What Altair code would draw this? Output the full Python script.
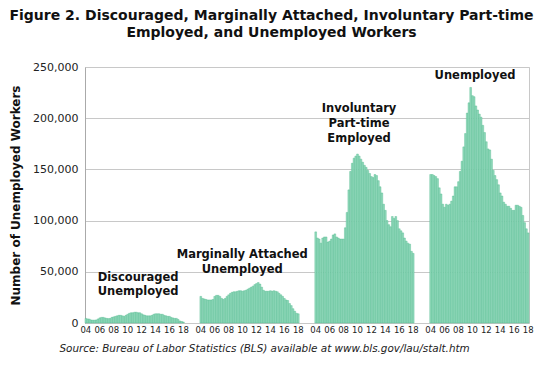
import altair as alt
import pandas as pd

# Quarterly values, 2004 Q1 .. 2018 Q1 (57 quarters), in workers
discouraged = [4500, 4000, 3800, 3000, 2800, 2800, 3000, 4000, 5000, 5500, 5500, 5000, 4500, 4300, 4500,
               5500, 6000, 6500, 7000, 7500, 7500, 7000, 6500, 7500, 8500, 9500, 10000, 10000, 10500, 10500,
               10000, 10000, 9000, 8000, 7500, 7000, 7000, 7000, 7500, 8500, 9000, 9000, 9000, 8500, 8500,
               7500, 7000, 6500, 6500, 5500, 5000, 4500, 4500, 3500, 2000, 1500, 1000]
marginal = [26000, 24000, 23500, 23000, 22500, 22500, 22500, 23000, 26000, 27000, 27000, 26000, 24000, 23000,
            24000, 26000, 27500, 29000, 30000, 30500, 30500, 31000, 31500, 31500, 31000, 31500, 32000, 33000,
            34000, 35000, 36000, 37500, 38500, 39500, 38000, 35000, 32000, 31000, 31000, 31000, 31500, 31000,
            31500, 31000, 30500, 29000, 27500, 26000, 24000, 22500, 22000, 19000, 17000, 14000, 11500, 9500, 9000]
involuntary = [89000, 83000, 82000, 78000, 83000, 84000, 84000, 79000, 80000, 82000, 86000, 87000, 84000, 83000,
               82000, 82000, 82000, 93000, 108000, 130000, 148000, 156000, 161000, 163000, 165000, 163000, 160000,
               157000, 154000, 152000, 149000, 146000, 143000, 142000, 145000, 144000, 139000, 133000, 127000,
               116000, 110000, 100000, 96000, 94000, 104000, 102000, 104000, 100000, 92000, 90000, 88000, 83000,
               80000, 78000, 77000, 70000, 68000]
unemployed = [145000, 145000, 144000, 143000, 141000, 132000, 126000, 116000, 113000, 116000, 115000, 116000,
              119000, 124000, 133000, 133000, 138000, 148000, 158000, 172000, 185000, 205000, 215000, 230000,
              222000, 221000, 212000, 208000, 204000, 201000, 193000, 186000, 177000, 170000, 169000, 160000,
              149000, 144000, 140000, 135000, 127000, 124000, 118000, 116000, 114000, 114000, 112000, 110000,
              110000, 115000, 115000, 114000, 113000, 105000, 98000, 92000, 88000]

groups = ["Discouraged", "Marginally Attached", "Involuntary Part-time", "Unemployed"]
series = [discouraged, marginal, involuntary, unemployed]
year_labels = ["04", "06", "08", "10", "12", "14", "16", "18"]

STRIDE = 66  # slots per group (57 quarters + gap)

rows = []
for g, (name, vals) in enumerate(zip(groups, series)):
    for i, v in enumerate(vals):
        p = g * STRIDE + i
        rows.append({"group": name, "pos": p, "x0": p - 0.5, "x1": p + 0.5, "value": v})
df = pd.DataFrame(rows)

tick_df = pd.DataFrame([{"pos": g * STRIDE + 8 * k, "label": lab}
                        for g in range(4) for k, lab in enumerate(year_labels)])

ann_text = ["Discouraged", "Unemployed", "Marginally Attached", "Unemployed",
            "Involuntary", "Part-time", "Employed", "Unemployed"]
ann_x = [30.0, 30.0, 89.8, 89.8, 156.9, 156.9, 156.9, 223.5]
ann_y = [44000, 30300, 66400, 51800, 208500, 194300, 179200, 241200]
ann = pd.DataFrame({"text": ann_text, "x": ann_x, "y": ann_y})

FONT = "DejaVu Sans"
W, H = 444, 256
xscale = alt.Scale(domain=[-0.5, 3 * STRIDE + 56.5], nice=False, zero=False)
yscale = alt.Scale(domain=[0, 250000], nice=False)

bars = alt.Chart(df).mark_bar(fill="#93d9bc", stroke="#4cb98b", strokeWidth=0.4).encode(
    x=alt.X("x0:Q", scale=xscale,
            axis=alt.Axis(labels=False, ticks=False, domain=True, domainColor="#c8c8c8", grid=False,
                          title="Source: Bureau of Labor Statistics (BLS) available at www.bls.gov/lau/stalt.htm",
                          titleFont=FONT, titleFontSize=10.4, titleFontStyle="italic", titleFontWeight="normal",
                          titleColor="#222222", titleAnchor="start", titleX=-26, titlePadding=20)),
    x2="x1:Q",
    y=alt.Y("value:Q", scale=yscale,
            axis=alt.Axis(values=[0, 50000, 100000, 150000, 200000, 250000], format=",d", ticks=False,
                          domainColor="#aaaaaa", gridColor="#c8c8c8", labelFont=FONT, labelFontSize=11,
                          labelColor="#222222", labelPadding=7,
                          title="Number of Unemployed Workers", titleFont=FONT, titleFontSize=12,
                          titleFontWeight="bold", titleColor="#111111", titlePadding=10)),
    y2=alt.datum(0),
)

ticklabels = alt.Chart(tick_df).mark_text(font=FONT, fontSize=8.5, color="#222222",
                                          baseline="top", align="center").encode(
    x=alt.X("pos:Q", scale=xscale),
    y=alt.value(H + 3),
    text="label:N",
)

labels = alt.Chart(ann).mark_text(font=FONT, fontSize=11.5, fontWeight="bold", color="#111111",
                                  baseline="middle", align="center").encode(
    x=alt.X("x:Q", scale=xscale),
    y=alt.Y("y:Q", scale=yscale),
    text="text:N",
)

chart = alt.layer(bars, ticklabels, labels).properties(
    width=W, height=H,
    title=alt.TitleParams(["Figure 2. Discouraged, Marginally Attached, Involuntary Part-time",
                           "Employed, and Unemployed Workers"],
                          font=FONT, fontSize=14, fontWeight="bold", color="#111111",
                          anchor="middle", dx=-35.5, offset=21, lineHeight=17),
    autosize=alt.AutoSizeParams(type="none"),
    padding={"left": 77, "top": 59, "right": 6, "bottom": 36},
).configure_view(stroke="#c8c8c8")

chart.save("out.html", embed_options={"renderer": "svg", "actions": False})
